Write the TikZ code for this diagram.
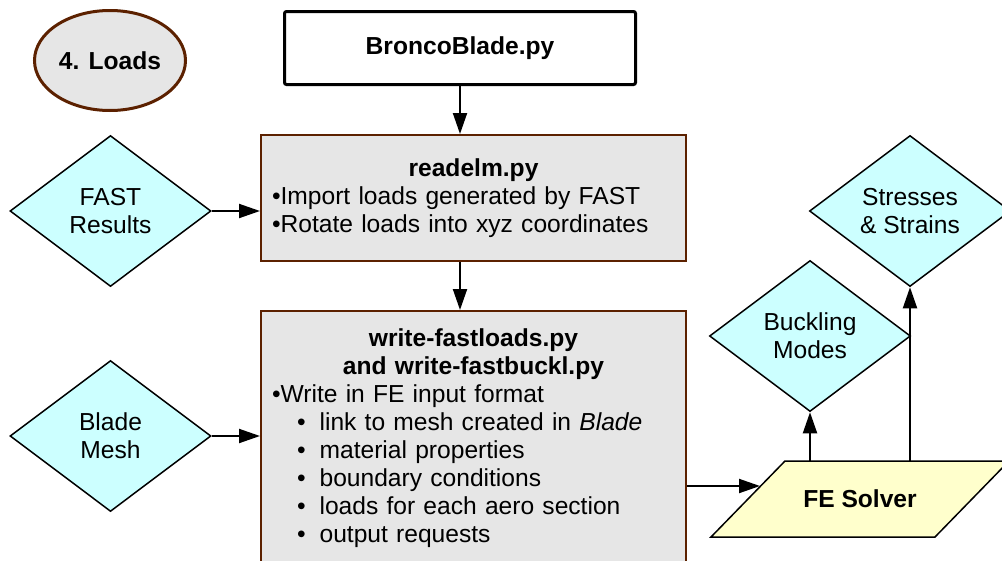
\documentclass[tikz,border=0pt]{standalone}
\usepackage{fontspec}
\setmainfont{Liberation Sans}
\usetikzlibrary{shapes.geometric,arrows.meta,calc}
\definecolor{boxgray}{HTML}{E6E6E6}
\definecolor{boxbrown}{HTML}{5C2100}
\definecolor{datacyan}{HTML}{CCFFFF}
\definecolor{solveryellow}{HTML}{FFFFCC}
\tikzset{
    every node/.style={font=\fontsize{24.6}{28}\selectfont},
    script/.style={rectangle, draw=boxbrown, fill=boxgray, line width=2pt, inner sep=0pt,
      text width=403pt, align=left, minimum width=425pt},
    data/.style={diamond, draw, fill=datacyan, line width=1.5pt, inner sep=0pt, aspect=1.33,
      minimum width=201pt, minimum height=151pt, align=center},
    arr/.style={-{Triangle[length=21pt,width=14pt]}, line width=2pt},
  }
\begin{document}
\begin{tikzpicture}[x=1pt,y=-1pt]
				  %cadre
				  \useasboundingbox (0,0) rectangle (1002,560);
				  \node[ellipse, draw=boxbrown, fill=boxgray, line width=3pt, inner sep=0pt,
				        minimum width=151pt, minimum height=100pt] (loads) at (110,60.5) {\bfseries 4. Loads};
				  \node[draw, line width=3pt, rounded corners=2pt, minimum width=351pt,
				        minimum height=73pt] (bronco) at (460,48) {\bfseries BroncoBlade.py};
				  \node[script, minimum height=126pt] (readelm) at (473.5,198)
				        {{\centering\bfseries readelm.py\par}•Import loads generated by FAST\\•Rotate loads into xyz coordinates};
				  \node[script, anchor=north, minimum height=254pt] (write) at (473.5,310)
				        {{\centering\bfseries write-fastloads.py\\ and write-fastbuckl.py\par}%
				         •Write in FE input format\\
				         \hspace*{25pt}•\hspace{14pt}link to mesh created in \textit{Blade}\\
				         \hspace*{25pt}•\hspace{14pt}material properties\\
				         \hspace*{25pt}•\hspace{14pt}boundary conditions\\
				         \hspace*{25pt}•\hspace{14pt}loads for each aero section\\
				         \hspace*{25pt}•\hspace{14pt}output requests};
				  %losanges
				  \node[data] (fast) at (110.5,211) {FAST\\Results};
				  \node[data] (mesh) at (110.5,436) {Blade\\Mesh};
				  \node[data] (buck) at (810,336) {Buckling\\Modes};
				  \node[data] (stress) at (910,211) {Stresses\\\& Strains};
				  %parallelogramme
				  \filldraw[fill=solveryellow, line width=1.5pt, line join=miter]
				        (711,537) -- (785,461) -- (1009,461) -- (935,537) -- cycle;
				  \node (solver) at (860,499) {\bfseries FE Solver};
				  \coordinate (in) at (760,486);
				  \coordinate (out) at (860,461);
				  
				  \draw[arr] (bronco.south) -- (bronco.south |- readelm.north);
				  \draw[arr] (readelm.south -| bronco.south) -- (bronco.south |- write.north);
				  \draw[arr] (fast.east) -- (fast.east -| readelm.west);
				  \draw[arr] (mesh.east) -- (mesh.east -| write.west);
				  \draw[arr] (write.east |- in) -- (in);
				  \draw[arr] (buck.south |- out) -- (buck.south);
				  \draw[arr] (stress.south |- out) -- (stress.south);
\end{tikzpicture}
\end{document}
